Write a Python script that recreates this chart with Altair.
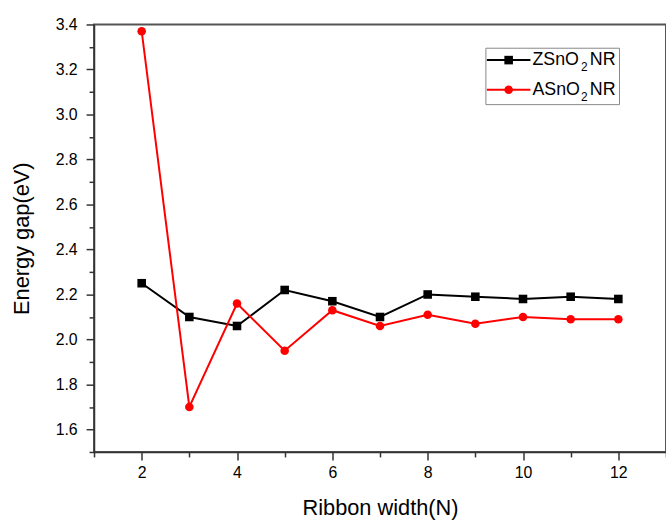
import altair as alt
import pandas as pd

widths = [2, 3, 4, 5, 6, 7, 8, 9, 10, 11, 12]
z_gap = [2.25, 2.10, 2.06, 2.22, 2.17, 2.10, 2.20, 2.19, 2.18, 2.19, 2.18]
a_gap = [3.37, 1.70, 2.16, 1.95, 2.13, 2.06, 2.11, 2.07, 2.10, 2.09, 2.09]

x_ticks = list(range(1, 14))
y_ticks = [round(1.5 + 0.1 * i, 1) for i in range(20)]

FONT = "Liberation Sans"

dz = pd.DataFrame({"N": widths, "gap": z_gap})
da = pd.DataFrame({"N": widths, "gap": a_gap})

xs = alt.Scale(domain=[1, 13], nice=False, zero=False)
ys = alt.Scale(domain=[1.5, 3.4], nice=False, zero=False)

common = dict(
    grid=False, domainColor="#333333", domainWidth=1.5, tickColor="#333333", tickWidth=1.5,
    labelFont=FONT, labelFontSize=16, labelColor="#000000",
    titleFont=FONT, titleFontSize=22, titleFontWeight="normal", titleColor="#000000",
)

x_axis = alt.Axis(
    title="Ribbon width(N)", values=x_ticks,
    labelExpr="datum.value % 2 == 0 ? datum.label : ''",
    tickSize={"condition": {"test": "datum.value % 2 == 0", "value": 8}, "value": 5},
    labelPadding=5, titlePadding=17, **common,
)
y_axis = alt.Axis(
    title="Energy gap(eV)", values=y_ticks, format=".1f",
    labelExpr="round(datum.value * 10) % 2 == 0 ? datum.label : ''",
    tickSize={"condition": {"test": "round(datum.value * 10) % 2 == 0", "value": 8}, "value": 5},
    labelPadding=9, titlePadding=22, **common,
)

def series(df, color, shape):
    base = alt.Chart(df).encode(
        x=alt.X("N:Q", scale=xs, axis=x_axis),
        y=alt.Y("gap:Q", scale=ys, axis=y_axis),
    )
    line = base.mark_line(color=color, strokeWidth=2)
    pts = base.mark_point(color=color, filled=True, shape=shape, size=75, opacity=1)
    return line + pts

one = pd.DataFrame({"k": [0]})

# legend (decoration)
legend_box = alt.Chart(one).mark_rect(fill="white", stroke="#888888", strokeWidth=1).encode(
    x=alt.value(396), x2=alt.value(531), y=alt.value(24), y2=alt.value(81)
)

def legend_entry(y, color, shape, main, tail):
    ln = alt.Chart(one).mark_rule(color=color, strokeWidth=2).encode(
        x=alt.value(397), x2=alt.value(441), y=alt.value(y)
    )
    pt = alt.Chart(one).mark_point(color=color, filled=True, shape=shape, size=75, opacity=1).encode(
        x=alt.value(419), y=alt.value(y)
    )
    t1 = alt.Chart(one).mark_text(text=main, font=FONT, fontSize=18, align="left",
                                  baseline="middle", color="black").encode(
        x=alt.value(443), y=alt.value(y)
    )
    t2 = alt.Chart(one).mark_text(text="2", font=FONT, fontSize=12, align="left",
                                  baseline="middle", color="black").encode(
        x=alt.value(492), y=alt.value(y + 7)
    )
    t3 = alt.Chart(one).mark_text(text=tail, font=FONT, fontSize=18, align="left",
                                  baseline="middle", color="black").encode(
        x=alt.value(501), y=alt.value(y)
    )
    return ln + pt + t1 + t2 + t3

chart = alt.layer(
    series(dz, "#000000", "square"),
    series(da, "#ff0000", "circle"),
    legend_box,
    legend_entry(36, "#000000", "square", "ZSnO", "NR"),
    legend_entry(66, "#ff0000", "circle", "ASnO", "NR"),
).properties(
    width=578, height=432,
    autosize=alt.AutoSizeParams(type="none"),
    padding={"left": 95, "top": 22, "right": 0, "bottom": 66},
    background="white",
).configure_view(
    stroke="#555555", strokeWidth=2
)

chart.save("out.html", embed_options={"renderer": "svg", "actions": False})
